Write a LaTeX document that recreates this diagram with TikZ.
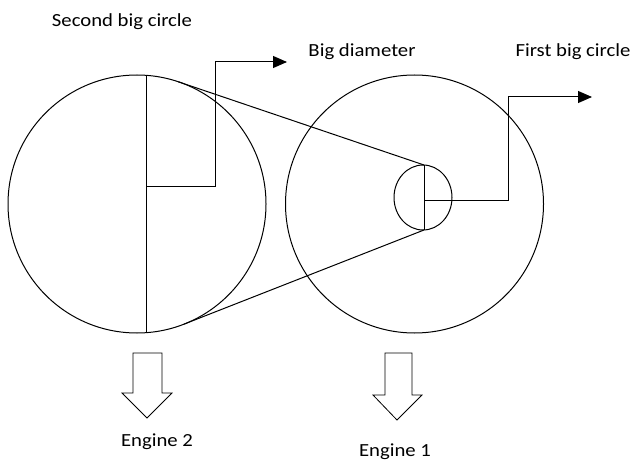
\documentclass[tikz,border=0pt]{standalone}
\usepackage{fontspec}
\setmainfont{Carlito}[FakeStretch=1.12]
\usetikzlibrary{arrows.meta,shapes.geometric}
\begin{document}
\begin{tikzpicture}[x=1pt,y=-1pt,
  ln/.style={line width=1pt,black},
  wheel/.style={circle,draw,line width=1pt,inner sep=0pt},
  lbl/.style={font=\fontsize{18.5}{22}\selectfont,inner sep=0pt},
  arr/.style={ln,-{Triangle[length=14pt,width=12pt]}},
  hollow/.style={draw,line width=0.8pt,fill=white}]
\useasboundingbox (0,0) rectangle (634,462);
% circles
\node[wheel,minimum size=258pt] (C2) at (137,204) {};
\node[wheel,minimum size=258pt] (C1) at (414.5,204) {};
\node[ellipse,draw,line width=1pt,inner sep=0pt,minimum width=58pt,minimum height=65pt] (S) at (423,197.5) {};
% diameters
\coordinate (c2t) at (146,75.3);
\coordinate (c2b) at (146,332.7);
\coordinate (st) at (424,165);
\coordinate (sb) at (424,230);
\coordinate (sm) at (424,201);
\draw[ln] (c2t) -- (c2b);
\draw[ln] (st) -- (sb);
% belt lines (tangent to the second big circle)
\coordinate (bt) at (178.4,81.8);
\coordinate (bb) at (184.1,324.1);
\draw[ln] (bt) -- (st);
\draw[ln] (bb) -- (sb);
% pointer arrows
\coordinate (lm) at (146,187);
\coordinate (la) at (287,62);
\draw[arr] (lm) -| (215,62) -- (la);
\coordinate (ra) at (592,97);
\draw[arr] (sm) -| (508,97) -- (ra);
% labels
\node[lbl] (t1) at (122,22) {Second big circle};
\node[lbl] (t2) at (362,52) {Big diameter};
\node[lbl] (t3) at (573,52) {First big circle};
\node[lbl] (e2) at (157,442) {Engine 2};
\node[lbl] (e1) at (395,452) {Engine 1};
% hollow arrows
\draw[hollow] (133,353) -- (162,353) -- (162,393) -- (172,393) -- (147,418) -- (122,393) -- (133,393) -- cycle;
\draw[hollow] (385,353) -- (412,353) -- (412,395) -- (422,395) -- (397,420) -- (373,395) -- (385,395) -- cycle;
\end{tikzpicture}
\end{document}
